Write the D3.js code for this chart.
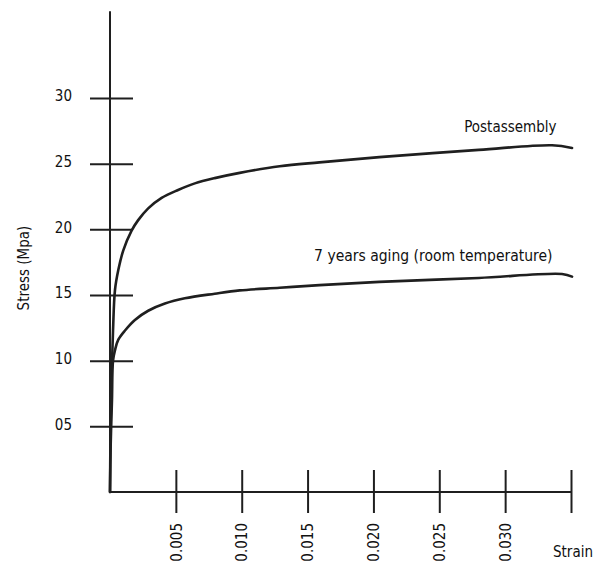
<!DOCTYPE html>
<html>
<head>
<meta charset="utf-8">
<script src="https://cdn.jsdelivr.net/npm/d3@7"></script>
<style>
  html, body { margin: 0; padding: 0; background: #fff; }
  svg { display: block; }
  text { font-family: "DejaVu Sans Condensed", "Liberation Sans Narrow", "Open Sans", sans-serif; fill: #111; }
</style>
</head>
<body>
<svg id="chart" width="595" height="563"></svg>
<script>
// ---- Data ----
const yTickValues = [5, 10, 15, 20, 25, 30];
const yTickLabels = ["05", "10", "15", "20", "25", "30"];
const xTickValues = [0.005, 0.010, 0.015, 0.020, 0.025, 0.030, 0.035];
const xTickLabels = ["0.005", "0.010", "0.015", "0.020", "0.025", "0.030", ""];

const postStrain = [0, 0.00003, 0.00008, 0.00023, 0.00038, 0.00063, 0.00101, 0.00164, 0.00214, 0.0029, 0.00392, 0.00517, 0.00644, 0.00795, 0.00985, 0.01288, 0.0159, 0.02045, 0.028, 0.03356, 0.03508];
const postStress = [0, 3.5, 7.0, 12.3, 15.4, 16.9, 18.4, 19.9, 20.7, 21.6, 22.4, 23.0, 23.5, 23.9, 24.3, 24.8, 25.1, 25.5, 26.05, 26.4, 26.2];

const agedStrain = [0, 0.00005, 0.00015, 0.00023, 0.00038, 0.00063, 0.00114, 0.00189, 0.0029, 0.00417, 0.00568, 0.00795, 0.00985, 0.01288, 0.0159, 0.02045, 0.028, 0.03432, 0.03508];
const agedStress = [0, 3.5, 7.0, 10.0, 10.8, 11.6, 12.3, 13.1, 13.8, 14.35, 14.75, 15.1, 15.35, 15.55, 15.75, 16.0, 16.3, 16.6, 16.4];

const seriesNames = ["Postassembly", "7 years aging (room temperature)"];
const xAxisTitle = "Strain";
const yAxisTitle = "Stress (Mpa)";

// ---- Layout ----
const svg = d3.select("#chart");
const x = d3.scaleLinear().domain([0, 0.035]).range([110, 571]);
const y = d3.scaleLinear().domain([0, 30]).range([492, 98]);
const yAxisTop = 36.6;
const ink = "#1f1f1f";

// Y axis
const yAxis = d3.axisLeft(y)
  .tickValues(yTickValues)
  .tickFormat((d, i) => yTickLabels[i])
  .tickSizeOuter(0);
const gy = svg.append("g").attr("transform", `translate(${x(0)},0)`).call(yAxis);
gy.select(".domain").remove();
gy.selectAll(".tick line").attr("x1", -20).attr("x2", 23).attr("stroke", ink).attr("stroke-width", 2);
gy.selectAll(".tick text").attr("x", -38).attr("dy", "0.32em").attr("y", -2)
  .style("font-size", "15px").attr("fill", "#111");
svg.append("line")
  .attr("x1", x(0)).attr("x2", x(0))
  .attr("y1", y(0)).attr("y2", y(yAxisTop))
  .attr("stroke", ink).attr("stroke-width", 2);

// X axis
const xAxis = d3.axisBottom(x)
  .tickValues(xTickValues)
  .tickFormat((d, i) => xTickLabels[i])
  .tickSizeOuter(0);
const gx = svg.append("g").attr("transform", `translate(0,${y(0)})`).call(xAxis);
gx.select(".domain").remove();
gx.selectAll(".tick line").attr("y1", -22).attr("y2", 21).attr("stroke", ink).attr("stroke-width", 2);
gx.selectAll(".tick text")
  .attr("transform", "rotate(-90)")
  .attr("x", -31).attr("y", 0).attr("dy", "0.35em")
  .attr("text-anchor", "end")
  .style("font-size", "15px").attr("fill", "#111");
svg.append("line")
  .attr("x1", x(0)).attr("x2", x(0.035))
  .attr("y1", y(0)).attr("y2", y(0))
  .attr("stroke", ink).attr("stroke-width", 2);

// Curves
const line = d3.line().curve(d3.curveCatmullRom.alpha(0.5));
const postPts = postStrain.map((s, i) => [x(s), y(postStress[i])]);
const agedPts = agedStrain.map((s, i) => [x(s), y(agedStress[i])]);
[postPts, agedPts].forEach(pts => {
  svg.append("path")
    .attr("d", line(pts))
    .attr("fill", "none")
    .attr("stroke", ink)
    .attr("stroke-width", 2.6)
    .attr("stroke-linecap", "round")
    .attr("stroke-linejoin", "round");
});

// Series labels
svg.append("text").attr("x", x(0.0339)).attr("y", y(27.4)).attr("text-anchor", "end")
  .style("font-size", "15px").text(seriesNames[0]);
svg.append("text").attr("x", x(0.0336)).attr("y", y(17.6)).attr("text-anchor", "end")
  .style("font-size", "15.5px").text(seriesNames[1]);

// Axis titles
svg.append("text").attr("x", 593).attr("y", 557).attr("text-anchor", "end")
  .style("font-size", "15px").text(xAxisTitle);
svg.append("text").attr("transform", `translate(29,${268}) rotate(-90)`).attr("text-anchor", "middle")
  .style("font-size", "15px").text(yAxisTitle);
</script>
</body>
</html>
